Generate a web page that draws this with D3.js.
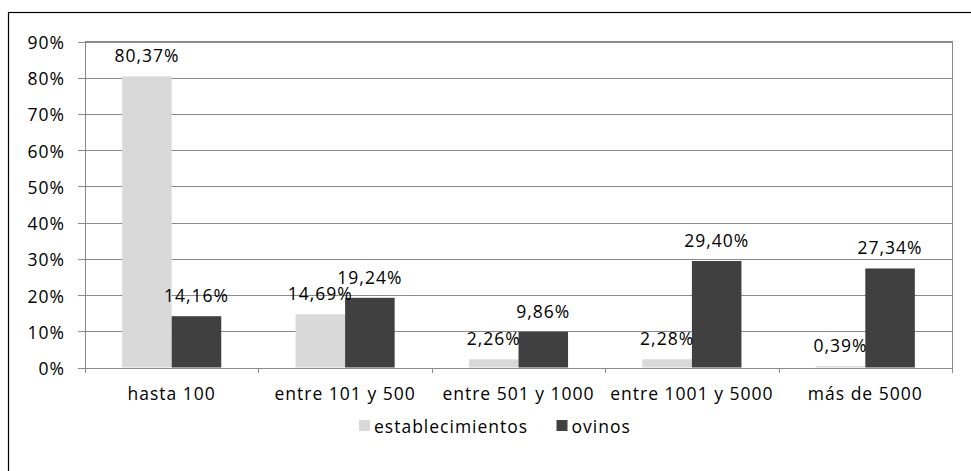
<!DOCTYPE html>
<html>
<head>
<meta charset="utf-8">
<script src="https://cdn.jsdelivr.net/npm/d3@7"></script>
<style>
  body { margin: 0; background: #fff; }
  text { font-family: "Open Sans", sans-serif; font-size: 17.5px; letter-spacing: 1px; fill: #000; }
</style>
</head>
<body>
<div id="viz_container"></div>
<script>
// data
const categories = ["hasta 100", "entre 101 y 500", "entre 501 y 1000", "entre 1001 y 5000", "más de 5000"];
const establecimientos = [0.8037, 0.1469, 0.0226, 0.0228, 0.0039];
const ovinos = [0.1416, 0.1924, 0.0986, 0.2940, 0.2734];
const seriesNames = ["establecimientos", "ovinos"];
const yTicks = [0, 0.1, 0.2, 0.3, 0.4, 0.5, 0.6, 0.7, 0.8, 0.9];

const W = 971, H = 471;
const margin = { top: 41.5, right: 19, bottom: 103.5, left: 85 };
const width = W - margin.left - margin.right;
const height = H - margin.top - margin.bottom;

const svgRoot = d3.select("#viz_container")
    .append("svg")
    .attr("width", W)
    .attr("height", H);

// outer chart border
svgRoot.append("rect")
    .attr("x", 8.5).attr("y", 12.5)
    .attr("width", W).attr("height", H)
    .attr("fill", "none")
    .attr("stroke", "#000")
    .attr("stroke-width", 1.2);

const svg = svgRoot.append("g")
    .attr("transform", `translate(${margin.left}, ${margin.top})`);

const color = d3.scaleOrdinal().domain(seriesNames).range(["#d9d9d9", "#404040"]);
const fmt = v => d3.format(".2f")(v * 100).replace(".", ",") + "%";

// scales
const xScale = d3.scaleBand().domain(categories).range([0, width]).paddingInner(0).paddingOuter(0);
const xSub = d3.scaleBand().domain(seriesNames).range([0, xScale.bandwidth()]).paddingInner(0).paddingOuter(0.75);
const yScale = d3.scaleLinear().domain([0, 0.9]).range([height, 0]);
const boundary = d3.scaleLinear().domain([0, categories.length]).range([0, width]);

// grid lines
svg.append("g")
    .attr("class", "grid")
    .call(d3.axisLeft(yScale).tickValues(yTicks).tickSize(-width).tickFormat(""))
    .call(g => g.select(".domain").remove())
    .call(g => g.selectAll("line").attr("stroke", "#8a8a8a").attr("shape-rendering", "crispEdges"));

// plot area frame (top and right)
svg.append("path")
    .attr("d", `M0,0H${width}V${height}`)
    .attr("fill", "none")
    .attr("stroke", "#8a8a8a")
    .attr("shape-rendering", "crispEdges");

// bars
const rows = categories.map((c, i) => ({ cat: c, values: [
    { key: "establecimientos", value: establecimientos[i] },
    { key: "ovinos", value: ovinos[i] }
] }));

const groups = svg.selectAll(".group")
    .data(rows)
    .join("g")
    .attr("transform", d => `translate(${xScale(d.cat)},0)`);

groups.selectAll("rect")
    .data(d => d.values)
    .join("rect")
    .attr("x", d => xSub(d.key))
    .attr("y", d => yScale(d.value))
    .attr("width", xSub.bandwidth())
    .attr("height", d => height - yScale(d.value))
    .attr("fill", d => color(d.key));

groups.selectAll("text")
    .data(d => d.values)
    .join("text")
    .attr("x", d => xSub(d.key) + xSub.bandwidth() / 2)
    .attr("y", d => yScale(d.value) - 21)
    .attr("text-anchor", "middle")
    .attr("dominant-baseline", "central")
    .text(d => fmt(d.value));

// Y axis
svg.append("g")
    .call(d3.axisLeft(yScale).tickValues(yTicks).tickSize(7).tickPadding(13).tickFormat(d3.format(".0%")))
    .call(g => g.selectAll("line, path").attr("stroke", "#8a8a8a").attr("shape-rendering", "crispEdges"))
    .call(g => g.selectAll("text").attr("font-size", null).attr("font-family", null).attr("dominant-baseline", "central").attr("dy", null));

// X axis: boundary ticks
svg.append("g")
    .attr("transform", `translate(0, ${height})`)
    .call(d3.axisBottom(boundary).tickValues(d3.range(categories.length + 1)).tickSize(5).tickFormat(""))
    .call(g => g.selectAll("line, path").attr("stroke", "#8a8a8a").attr("shape-rendering", "crispEdges"));

// X axis: category labels
svg.append("g")
    .attr("transform", `translate(0, ${height})`)
    .call(d3.axisBottom(xScale).tickSize(0).tickPadding(0))
    .call(g => g.select(".domain").remove())
    .call(g => g.selectAll("text").attr("font-size", null).attr("font-family", null)
        .attr("y", 25).attr("dy", null).attr("dominant-baseline", "central"));

// legend
const legendItems = [
    { key: "establecimientos", x: 274 },
    { key: "ovinos", x: 471.5 }
];
const legend = svg.selectAll(".legend")
    .data(legendItems)
    .join("g")
    .attr("transform", d => `translate(${d.x}, ${height + 58})`);
legend.append("rect")
    .attr("x", 0).attr("y", -5.5)
    .attr("width", 11).attr("height", 11)
    .attr("fill", d => color(d.key));
legend.append("text")
    .attr("x", 15)
    .attr("y", 0)
    .attr("dominant-baseline", "central")
    .text(d => d.key);
</script>
</body>
</html>
